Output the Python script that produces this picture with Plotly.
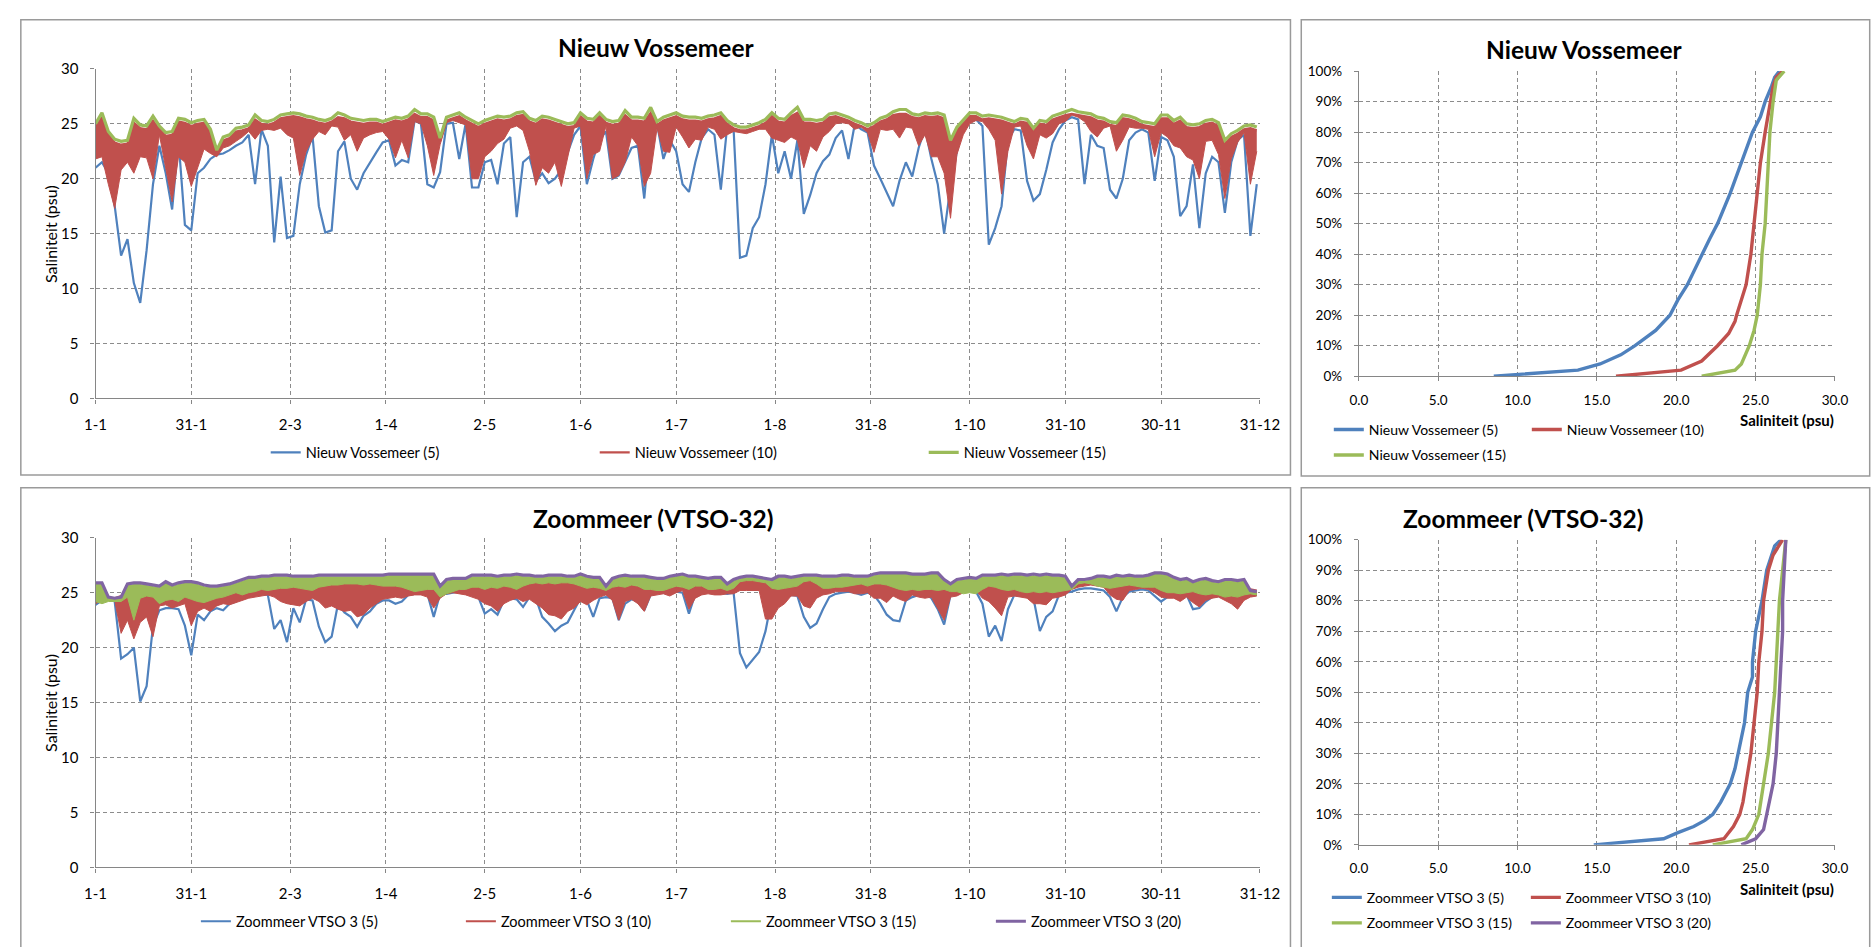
import plotly.graph_objects as go

# ---------------------------------------------------------------------------
# Page geometry (pixels) and helpers to place things in paper coordinates
# ---------------------------------------------------------------------------
W, H = 1872, 947


def px(x):
    return x / W


def py(y):
    return 1 - y / H


FONT = "Lato"
BLUE = "#4F81BD"
RED = "#C0504D"
GREEN = "#9BBB59"
PURPLE = "#8064A2"
AXIS = "#868686"
GRID = "#8C8C8C"
FRAME = "#9A9A9A"

# ---------------------------------------------------------------------------
# Time axis: day of year (sampled every 2 days) and date tick labels
# ---------------------------------------------------------------------------
DAYS = list(range(0, 365, 2))
TICK_DAYS = [0, 30, 61, 91, 122, 152, 182, 213, 243, 274, 304, 334, 365]
TICK_LABELS = ["1-1", "31-1", "2-3", "1-4", "2-5", "1-6", "1-7", "1-8",
               "31-8", "1-10", "31-10", "30-11", "31-12"]

# ---------------------------------------------------------------------------
# Nieuw Vossemeer salinity (psu) at 5, 10 and 15 m
# The 10 m sensor swings strongly within a day: kept as low / high envelope.
# ---------------------------------------------------------------------------
NV5 = [
    21.0, 21.5, 20.5, 17.5, 13.0, 14.5, 10.5, 8.7, 13.5, 19.5,
    23.0, 20.5, 17.2, 23.5, 15.8, 15.3, 20.5, 21.0, 21.8, 22.2,
    22.3, 22.6, 23.0, 23.3, 24.0, 19.5, 24.5, 23.0, 14.2, 20.2,
    14.6, 14.8, 19.5, 22.2, 23.9, 17.5, 15.1, 15.3, 22.5, 23.4,
    20.0, 19.0, 20.5, 21.5, 22.4, 23.3, 23.5, 21.2, 21.7, 21.5,
    25.3, 25.0, 19.5, 19.2, 20.6, 25.0, 25.1, 21.8, 25.0, 19.2,
    19.2, 21.5, 21.7, 19.5, 23.2, 23.8, 16.5, 21.5, 22.0, 19.8,
    20.5, 19.6, 20.0, 20.8, 22.5, 24.0, 24.8, 19.5, 21.8, 23.6,
    24.3, 20.0, 20.3, 21.5, 22.8, 23.0, 18.2, 24.6, 25.0, 21.8,
    23.5, 22.5, 19.5, 18.8, 21.5, 23.7, 24.5, 24.0, 19.0, 24.8,
    24.5, 12.8, 13.0, 15.5, 16.5, 19.5, 24.0, 20.5, 22.5, 20.0,
    23.5, 16.8, 18.5, 20.5, 21.6, 22.2, 23.7, 24.4, 21.8, 25.0,
    24.5, 24.2, 21.2, 20.0, 18.8, 17.5, 19.8, 21.5, 20.2, 22.8,
    24.6, 21.8, 19.5, 15.0, 19.3, 22.5, 24.8, 25.2, 25.4, 24.8,
    14.0, 15.5, 17.5, 23.5, 24.5, 24.4, 19.8, 18.0, 18.6, 20.8,
    23.3, 24.5, 25.3, 25.6, 25.4, 19.5, 24.0, 23.0, 22.8, 19.0,
    18.2, 20.0, 23.5, 24.2, 24.5, 24.2, 19.8, 23.8, 23.5, 22.0,
    16.6, 17.5, 21.3, 15.5, 20.5, 22.0, 21.5, 16.9, 21.5, 23.5,
    24.0, 14.8, 19.5,
]
NV10_LOW = [
    21.8, 22.0, 19.5, 17.3, 20.8, 21.5, 20.5, 22.0, 21.9, 20.0,
    24.0, 21.0, 17.9, 22.0, 21.5, 19.3, 21.0, 22.7, 22.3, 22.0,
    22.8, 23.0, 23.4, 23.8, 24.3, 23.6, 24.4, 24.5, 24.4, 24.6,
    24.0, 23.7, 20.3, 22.5, 23.6, 24.3, 24.0, 24.8, 24.7, 23.5,
    24.0, 22.5, 23.7, 24.0, 24.2, 24.3, 23.6, 21.9, 23.5, 21.9,
    25.2, 25.0, 23.0, 20.3, 23.1, 25.1, 25.3, 25.1, 24.9, 20.0,
    20.0, 22.0, 22.5, 23.2, 23.6, 24.6, 24.8, 24.4, 22.5, 19.4,
    21.0, 20.5, 21.5, 19.3, 22.0, 24.6, 24.8, 20.0, 22.2, 22.5,
    24.8, 20.0, 20.3, 21.5, 23.8, 23.0, 19.3, 20.5, 24.6, 22.5,
    22.4, 24.7, 23.8, 22.8, 23.6, 23.5, 24.7, 24.5, 23.6, 24.0,
    24.3, 24.2, 24.1, 24.3, 24.5, 24.5, 23.7, 23.5, 23.3, 23.8,
    23.5, 21.0, 23.0, 22.5, 23.8, 24.3, 25.0, 25.1, 25.0, 24.5,
    24.7, 24.2, 22.4, 24.5, 24.4, 24.5, 23.7, 24.7, 24.6, 23.0,
    24.0, 22.0, 22.0, 20.5, 16.4, 22.2, 24.0, 25.0, 25.3, 25.2,
    24.5, 23.5, 18.6, 22.5, 24.7, 24.8, 23.0, 21.8, 24.0, 23.7,
    24.1, 25.0, 25.2, 25.8, 25.6, 25.2, 24.3, 23.8, 24.6, 24.8,
    22.5, 23.5, 24.7, 24.6, 24.6, 24.5, 22.0, 24.2, 23.8, 23.0,
    22.8, 22.0, 21.7, 20.0, 23.4, 23.5, 22.2, 18.2, 21.8, 23.3,
    24.2, 19.5, 22.5,
]
NV10_HIGH = [
    24.7, 25.6, 24.0, 23.3, 23.1, 23.2, 25.1, 24.6, 24.5, 25.3,
    24.5, 23.9, 24.0, 25.2, 25.1, 24.8, 25.0, 25.1, 24.2, 22.3,
    23.5, 23.7, 24.3, 24.4, 24.6, 25.4, 25.0, 24.9, 25.1, 25.5,
    25.6, 25.7, 25.6, 25.4, 25.3, 25.1, 25.0, 25.2, 25.6, 25.5,
    25.2, 25.1, 25.0, 25.1, 25.1, 24.9, 25.1, 25.3, 25.2, 25.4,
    25.9, 25.6, 25.6, 25.3, 23.4, 25.3, 25.5, 25.7, 25.3, 25.0,
    24.7, 25.0, 25.2, 25.4, 25.3, 25.4, 25.7, 25.8, 25.2, 25.0,
    25.4, 25.3, 25.1, 24.9, 24.7, 24.8, 25.7, 25.2, 25.1, 25.7,
    25.1, 24.9, 25.0, 25.8, 25.3, 25.3, 25.2, 26.0, 24.9, 25.3,
    25.5, 25.7, 25.4, 25.3, 25.3, 25.2, 25.4, 25.5, 25.7, 25.0,
    24.6, 24.4, 24.4, 24.6, 24.8, 25.1, 25.7, 25.2, 25.1, 25.7,
    26.0, 25.1, 25.1, 25.0, 25.1, 25.6, 25.7, 25.5, 25.3, 25.0,
    24.8, 24.5, 24.8, 25.2, 25.4, 25.8, 25.9, 25.9, 25.6, 25.5,
    25.7, 25.6, 25.7, 25.5, 23.2, 24.4, 25.1, 25.7, 25.7, 25.4,
    25.5, 25.4, 25.3, 25.1, 24.9, 25.2, 25.1, 24.3, 25.0, 24.9,
    25.4, 25.6, 25.8, 25.9, 25.8, 25.7, 25.6, 25.3, 25.2, 24.9,
    24.8, 25.5, 25.4, 25.2, 24.9, 24.8, 24.7, 25.5, 25.5, 25.0,
    25.3, 24.7, 24.6, 24.7, 25.0, 25.1, 24.8, 23.2, 23.8, 24.1,
    24.5, 24.6, 24.4,
]
NV15 = [
    25.0, 26.0, 24.3, 23.6, 23.4, 23.5, 25.5, 24.9, 24.8, 25.7,
    24.8, 24.2, 24.3, 25.5, 25.4, 25.1, 25.3, 25.4, 24.5, 22.6,
    23.8, 24.0, 24.6, 24.7, 24.9, 25.8, 25.3, 25.2, 25.4, 25.8,
    25.9, 26.0, 25.9, 25.7, 25.6, 25.4, 25.3, 25.5, 26.0, 25.8,
    25.5, 25.4, 25.3, 25.4, 25.4, 25.2, 25.4, 25.6, 25.5, 25.7,
    26.3, 25.9, 25.9, 25.6, 23.7, 25.6, 25.8, 26.0, 25.6, 25.3,
    25.0, 25.3, 25.5, 25.7, 25.6, 25.7, 26.0, 26.1, 25.5, 25.3,
    25.7, 25.6, 25.4, 25.2, 25.0, 25.1, 26.0, 25.5, 25.4, 26.0,
    25.4, 25.2, 25.3, 26.2, 25.6, 25.6, 25.5, 26.5, 25.2, 25.6,
    25.8, 26.0, 25.7, 25.6, 25.6, 25.5, 25.7, 25.8, 26.0, 25.3,
    24.9, 24.7, 24.7, 24.9, 25.1, 25.4, 26.0, 25.5, 25.4, 26.0,
    26.5, 25.4, 25.4, 25.3, 25.4, 25.9, 26.0, 25.8, 25.6, 25.3,
    25.1, 24.8, 25.1, 25.5, 25.7, 26.1, 26.3, 26.3, 25.9, 25.8,
    26.0, 25.9, 26.0, 25.8, 23.5, 24.7, 25.4, 26.0, 26.0, 25.7,
    25.8, 25.7, 25.6, 25.4, 25.2, 25.5, 25.4, 24.6, 25.3, 25.2,
    25.7, 25.9, 26.1, 26.3, 26.1, 26.0, 25.9, 25.6, 25.5, 25.2,
    25.1, 25.8, 25.7, 25.5, 25.2, 25.1, 25.0, 25.8, 25.8, 25.3,
    25.6, 25.0, 24.9, 25.0, 25.3, 25.4, 25.1, 23.5, 24.1, 24.4,
    24.8, 24.9, 24.7,
]

# ---------------------------------------------------------------------------
# Zoommeer VTSO 3 salinity (psu) at 5, 10, 15 and 20 m
# ---------------------------------------------------------------------------
ZV5 = [
    23.9, 24.3, 24.4, 24.2, 19.0, 19.4, 20.0, 15.1, 16.5, 22.0,
    23.4, 23.6, 23.6, 23.5, 22.0, 19.3, 23.0, 22.5, 23.3, 23.6,
    23.4, 24.0, 24.2, 24.6, 24.8, 24.8, 24.9, 24.8, 21.7, 22.5,
    20.5, 23.6, 22.3, 24.4, 24.3, 21.9, 20.5, 21.0, 24.0, 23.2,
    22.8, 21.9, 22.9, 23.3, 24.0, 24.3, 24.3, 24.0, 24.2, 24.8,
    24.9, 25.0, 24.9, 22.8, 24.9, 24.9, 25.0, 25.1, 25.2, 24.8,
    24.6, 23.1, 23.5, 23.0, 24.3, 24.5, 24.4, 23.7, 24.6, 24.5,
    22.8, 22.2, 21.5, 22.0, 22.3, 23.4, 24.5, 24.3, 22.8, 24.5,
    24.6, 24.5, 22.5, 24.0, 24.4, 24.2, 23.4, 24.8, 25.0, 25.0,
    24.9, 25.1, 25.0, 23.1, 24.9, 25.0, 25.2, 25.1, 25.0, 24.9,
    25.0, 19.5, 18.2, 18.9, 19.6, 21.5, 24.5, 24.7, 24.6, 24.8,
    24.7, 22.8, 21.8, 22.2, 23.5, 24.6, 24.9, 25.0, 25.1, 25.0,
    24.8, 25.0, 24.8, 24.0, 23.0, 22.5, 22.4, 24.3, 24.6, 24.8,
    24.9, 24.5, 23.5, 22.1, 24.8, 24.9, 25.1, 25.2, 25.1, 24.0,
    21.0, 22.0, 20.6, 23.5, 24.8, 24.7, 24.8, 24.5, 21.5, 22.8,
    23.3, 24.8, 25.0, 25.1, 25.3, 25.4, 25.4, 25.3, 25.2, 24.6,
    23.3, 24.6, 25.1, 25.2, 25.3, 25.2, 24.7, 24.2, 24.6, 25.0,
    24.8, 24.8, 23.5, 23.6, 24.2, 24.6, 24.7, 24.5, 24.2, 24.0,
    24.8, 24.7, 24.8,
]
ZV10_LOW = [
    24.0, 24.3, 24.4, 24.3, 21.3, 22.5, 20.8, 22.3, 22.8, 21.0,
    23.8, 23.9, 23.6, 23.8, 24.0, 22.0, 23.3, 23.6, 23.3, 23.8,
    24.0, 23.9, 24.1, 24.3, 24.5, 24.6, 24.7, 24.8, 24.6, 24.2,
    24.0, 23.9, 23.8, 24.2, 24.5, 24.2, 23.6, 23.8, 23.5, 23.3,
    23.4, 22.8, 23.0, 23.6, 24.0, 24.4, 24.5, 24.6, 24.5, 24.7,
    24.8, 24.8, 24.6, 23.6, 24.5, 24.9, 25.0, 24.9, 24.8, 24.6,
    24.4, 24.0, 23.8, 23.3, 24.0, 24.3, 24.5, 24.2, 24.4, 24.0,
    23.6, 23.0, 22.9, 22.6, 23.3, 23.6, 24.2, 23.9, 24.3, 24.6,
    24.8, 24.3, 22.5, 24.2, 24.4, 24.0, 23.3, 24.7, 24.8, 24.9,
    24.7, 25.0, 25.2, 23.5, 24.5, 24.8, 24.9, 24.8, 24.8, 24.9,
    24.9, 25.2, 25.2, 25.2, 25.2, 22.6, 22.6, 23.6, 24.0, 24.7,
    24.7, 23.8, 23.6, 24.5, 24.8, 24.9, 25.1, 25.1, 25.1, 24.9,
    24.9, 25.0, 24.5, 24.5, 24.1, 24.7, 24.4, 24.2, 24.8, 24.6,
    24.5, 24.6, 23.5, 22.5, 24.6, 24.7, 25.0, 25.2, 25.2, 24.5,
    24.2, 23.6, 22.9, 24.6, 24.7, 24.6, 24.5, 24.0, 24.0, 23.9,
    24.5, 24.6, 24.8, 25.3, 25.5, 25.6, 25.7, 25.6, 25.5, 24.8,
    24.4, 24.3, 25.2, 25.3, 25.4, 25.3, 25.0, 24.6, 24.5, 24.5,
    24.2, 24.6, 24.1, 23.7, 24.3, 24.5, 24.6, 24.3, 24.0, 23.5,
    24.3, 24.6, 24.7,
]
ZV10_HIGH = [
    24.6, 24.6, 24.5, 24.5, 24.7, 24.8, 24.9, 24.8, 24.7, 24.6,
    24.5, 24.5, 24.6, 24.4, 24.6, 24.9, 25.0, 25.1, 25.0, 25.1,
    25.2, 25.1, 25.2, 25.3, 25.3, 25.4, 25.5, 25.4, 25.6, 25.8,
    25.9, 25.9, 25.8, 25.9, 25.9, 25.9, 26.0, 25.9, 25.9, 26.0,
    25.9, 26.0, 25.9, 25.9, 26.0, 25.9, 25.8, 25.7, 25.6, 25.6,
    25.5, 25.6, 25.7, 25.5, 24.8, 25.3, 25.4, 25.5, 25.5, 25.8,
    25.9, 25.9, 26.0, 26.0, 25.9, 26.0, 26.1, 26.0, 25.9, 26.0,
    26.0, 26.0, 25.9, 26.0, 25.9, 25.8, 25.7, 25.6, 25.8, 25.7,
    25.3, 25.6, 25.7, 25.6, 25.7, 25.5, 25.4, 25.3, 25.3, 25.2,
    25.4, 25.5, 25.4, 25.9, 25.9, 25.8, 25.4, 25.3, 25.5, 25.3,
    25.4, 26.1, 26.1, 26.1, 26.1, 25.9, 25.9, 25.8, 25.9, 25.9,
    25.9, 26.1, 26.1, 25.8, 25.6, 25.5, 25.6, 25.7, 25.7, 25.8,
    25.8, 25.6, 25.7, 25.9, 25.8, 25.7, 25.6, 25.5, 25.5, 25.5,
    25.5, 25.5, 25.3, 25.3, 25.2, 25.3, 25.2, 25.3, 25.3, 25.6,
    25.7, 25.7, 25.5, 25.5, 25.5, 25.4, 25.5, 25.5, 25.4, 25.5,
    25.6, 25.6, 25.6, 25.5, 25.8, 25.8, 25.8, 25.7, 25.6, 25.7,
    25.7, 25.7, 25.6, 25.6, 25.6, 25.5, 25.5, 25.4, 25.4, 25.4,
    25.4, 25.3, 25.3, 25.3, 25.2, 25.3, 25.2, 25.1, 25.2, 25.2,
    25.3, 25.3, 25.2,
]
ZV15_LOW = [
    24.2, 24.0, 24.2, 24.2, 24.2, 24.6, 22.5, 24.5, 24.7, 24.6,
    24.0, 24.3, 24.4, 24.2, 24.6, 24.4, 24.2, 24.1, 24.3, 24.5,
    24.6, 24.8, 25.0, 24.8, 25.0, 25.1, 25.3, 25.2, 25.3, 25.4,
    25.4, 25.5, 25.4, 25.3, 25.2, 25.5, 25.6, 25.7, 25.7, 25.8,
    25.8, 25.8, 25.7, 25.8, 25.7, 25.6, 25.6, 25.6, 25.5, 25.3,
    25.1, 25.2, 25.3, 25.3, 24.6, 24.9, 25.1, 25.3, 25.3, 25.5,
    25.5, 25.3, 25.5, 25.4, 25.6, 25.5, 25.3, 25.6, 25.8, 25.9,
    25.8, 25.9, 25.8, 25.9, 25.9, 25.8, 25.6, 25.4, 25.5, 25.4,
    25.2, 25.5, 25.6, 25.5, 25.7, 25.6, 25.3, 25.3, 25.2, 25.2,
    25.4, 25.6, 25.5, 25.3, 25.6, 25.6, 25.3, 25.3, 25.4, 25.2,
    25.4, 26.0, 26.1, 26.1, 26.0, 25.9, 25.4, 25.3, 25.4, 25.5,
    25.6, 26.0, 26.1, 25.8, 25.4, 25.4, 25.5, 25.5, 25.6, 25.7,
    25.8, 25.6, 25.8, 25.8, 25.7, 25.5, 25.3, 25.2, 25.3, 25.2,
    25.3, 25.3, 25.2, 25.3, 25.1, 25.1, 24.9, 25.0, 24.9, 25.3,
    25.6, 25.5, 25.3, 25.2, 25.3, 25.1, 25.0, 25.1, 25.0, 25.1,
    25.0, 25.1, 25.2, 25.3, 25.8, 25.9, 25.8, 25.6, 25.5, 25.4,
    25.5, 25.6, 25.7, 25.6, 25.5, 25.5, 25.5, 25.2, 25.0, 25.0,
    24.9, 25.0, 25.1, 24.9, 24.8, 24.9, 24.8, 24.6, 24.7, 24.6,
    24.8, 24.9, 24.8,
]
ZV15_HIGH = [
    25.7, 25.7, 24.4, 24.3, 24.4, 25.6, 25.7, 25.7, 25.6, 25.5,
    25.4, 25.8, 25.5, 25.7, 25.8, 25.8, 25.7, 25.5, 25.4, 25.4,
    25.5, 25.6, 25.8, 26.0, 26.2, 26.2, 26.3, 26.3, 26.4, 26.4,
    26.4, 26.3, 26.3, 26.3, 26.3, 26.4, 26.4, 26.4, 26.4, 26.4,
    26.4, 26.4, 26.4, 26.4, 26.4, 26.4, 26.5, 26.5, 26.5, 26.5,
    26.5, 26.5, 26.5, 26.5, 25.4, 26.0, 26.1, 26.1, 26.1, 26.4,
    26.4, 26.4, 26.4, 26.3, 26.4, 26.4, 26.5, 26.4, 26.4, 26.3,
    26.3, 26.4, 26.4, 26.4, 26.3, 26.3, 26.5, 26.3, 26.2, 26.2,
    25.4, 26.1, 26.3, 26.4, 26.3, 26.3, 26.3, 26.2, 26.1, 26.1,
    26.3, 26.4, 26.5, 26.3, 26.3, 26.2, 26.1, 26.2, 26.2, 25.6,
    26.0, 26.2, 26.3, 26.3, 26.2, 26.1, 26.0, 26.3, 26.3, 26.2,
    26.3, 26.4, 26.4, 26.4, 26.3, 26.3, 26.3, 26.4, 26.4, 26.3,
    26.3, 26.3, 26.5, 26.6, 26.6, 26.6, 26.6, 26.6, 26.5, 26.5,
    26.5, 26.6, 26.6, 26.0, 25.6, 26.0, 26.1, 26.2, 26.1, 26.4,
    26.4, 26.4, 26.5, 26.4, 26.5, 26.5, 26.4, 26.5, 26.4, 26.5,
    26.4, 26.4, 26.3, 25.4, 26.0, 26.0, 26.1, 26.3, 26.3, 26.2,
    26.4, 26.3, 26.4, 26.3, 26.3, 26.4, 26.6, 26.6, 26.5, 26.2,
    26.0, 26.1, 25.8, 26.0, 26.1, 25.9, 25.8, 26.0, 26.0, 25.9,
    26.0, 25.0, 24.9,
]
ZV20 = [
    25.9, 25.9, 24.6, 24.5, 24.6, 25.8, 25.9, 25.9, 25.8, 25.7,
    25.6, 26.0, 25.7, 25.9, 26.0, 26.0, 25.9, 25.7, 25.6, 25.6,
    25.7, 25.8, 26.0, 26.2, 26.4, 26.4, 26.5, 26.5, 26.6, 26.6,
    26.6, 26.5, 26.5, 26.5, 26.5, 26.6, 26.6, 26.6, 26.6, 26.6,
    26.6, 26.6, 26.6, 26.6, 26.6, 26.6, 26.7, 26.7, 26.7, 26.7,
    26.7, 26.7, 26.7, 26.7, 25.6, 26.2, 26.3, 26.3, 26.3, 26.6,
    26.6, 26.6, 26.6, 26.5, 26.6, 26.6, 26.7, 26.6, 26.6, 26.5,
    26.5, 26.6, 26.6, 26.6, 26.5, 26.5, 26.7, 26.5, 26.4, 26.4,
    25.6, 26.3, 26.5, 26.6, 26.5, 26.5, 26.5, 26.4, 26.3, 26.3,
    26.5, 26.6, 26.7, 26.5, 26.5, 26.4, 26.3, 26.4, 26.4, 25.8,
    26.2, 26.4, 26.5, 26.5, 26.4, 26.3, 26.2, 26.5, 26.5, 26.4,
    26.5, 26.6, 26.6, 26.6, 26.5, 26.5, 26.5, 26.6, 26.6, 26.5,
    26.5, 26.5, 26.7, 26.8, 26.8, 26.8, 26.8, 26.8, 26.7, 26.7,
    26.7, 26.8, 26.8, 26.2, 25.8, 26.2, 26.3, 26.4, 26.3, 26.6,
    26.6, 26.6, 26.7, 26.6, 26.7, 26.7, 26.6, 26.7, 26.6, 26.7,
    26.6, 26.6, 26.5, 25.6, 26.2, 26.2, 26.3, 26.5, 26.5, 26.4,
    26.6, 26.5, 26.6, 26.5, 26.5, 26.6, 26.8, 26.8, 26.7, 26.4,
    26.2, 26.3, 26.0, 26.2, 26.3, 26.1, 26.0, 26.2, 26.2, 26.1,
    26.2, 25.2, 25.1,
]

# ---------------------------------------------------------------------------
# Cumulative distributions: share of time (%) at or below a salinity (psu)
# ---------------------------------------------------------------------------
NV5_CDF_PCT = [0, 2, 4, 7, 10, 15, 20, 22, 25, 30, 40, 45, 48, 50, 60, 70, 80, 85, 90, 95, 98, 100]
NV5_CDF_SAL = [8.5, 13.8, 15.2, 16.5, 17.4, 18.7, 19.6, 19.8, 20.1, 20.7, 21.6, 22.1, 22.4, 22.6,
               23.4, 24.1, 24.8, 25.3, 25.6, 26.0, 26.2, 26.5]
NV10_CDF_PCT = [0, 2, 5, 10, 14, 18, 20, 25, 30, 40, 50, 60, 70, 80, 90, 95, 98, 100]
NV10_CDF_SAL = [16.2, 20.3, 21.6, 22.6, 23.3, 23.7, 23.8, 24.1, 24.4, 24.7, 24.9, 25.1, 25.3,
                25.6, 25.9, 26.1, 26.3, 26.7]
NV15_CDF_PCT = [0, 2, 4, 8, 10, 15, 20, 30, 40, 50, 60, 70, 80, 90, 97, 100]
NV15_CDF_SAL = [21.6, 23.7, 24.1, 24.4, 24.6, 24.9, 25.1, 25.3, 25.4, 25.6, 25.7, 25.8, 25.9,
                26.1, 26.3, 26.8]

ZV5_CDF_PCT = [0, 2, 4, 6, 8, 10, 14, 20, 25, 30, 40, 50, 55, 60, 70, 75, 80, 90, 95, 98, 100]
ZV5_CDF_SAL = [14.8, 19.2, 20.1, 21.1, 21.8, 22.3, 22.8, 23.4, 23.7, 23.9, 24.3, 24.5, 24.8,
               24.8, 25.0, 25.2, 25.4, 25.7, 26.0, 26.2, 26.6]
ZV10_CDF_PCT = [0, 2, 6, 10, 14, 20, 30, 40, 50, 60, 70, 80, 90, 95, 100]
ZV10_CDF_SAL = [20.8, 23.0, 23.6, 24.0, 24.2, 24.4, 24.7, 24.9, 25.1, 25.2, 25.4, 25.5, 25.8,
                26.1, 26.7]
ZV15_CDF_PCT = [0, 2, 5, 10, 20, 30, 40, 50, 60, 70, 80, 90, 100]
ZV15_CDF_SAL = [22.3, 24.4, 24.8, 25.2, 25.5, 25.8, 26.0, 26.2, 26.3, 26.4, 26.5, 26.7, 26.9]
ZV20_CDF_PCT = [0, 2, 5, 10, 20, 30, 40, 50, 60, 70, 80, 90, 100]
ZV20_CDF_SAL = [24.1, 25.0, 25.5, 25.7, 26.1, 26.3, 26.4, 26.5, 26.6, 26.7, 26.7, 26.8, 26.9]

# ---------------------------------------------------------------------------
# Traces
# ---------------------------------------------------------------------------
fig = go.Figure()


def line(x, y, color, width, name, legend, xa, ya, showlegend=True):
    fig.add_trace(go.Scatter(
        x=x, y=y, mode="lines", name=name, legend=legend, showlegend=showlegend,
        line=dict(color=color, width=width), xaxis=xa, yaxis=ya,
        hoverinfo="skip"))


def band(x, y_low, color, xa, ya):
    # filled down from the previous trace (the band's upper edge)
    fig.add_trace(go.Scatter(
        x=x, y=y_low, mode="lines", showlegend=False, fill="tonexty",
        fillcolor=color, line=dict(color=color, width=1),
        xaxis=xa, yaxis=ya, hoverinfo="skip"))


# Nieuw Vossemeer time series
line(DAYS, NV5, BLUE, 2.2, "Nieuw Vossemeer (5)", "legend", "x", "y")
line(DAYS, NV10_HIGH, RED, 2.2, "Nieuw Vossemeer (10)", "legend", "x", "y")
band(DAYS, NV10_LOW, RED, "x", "y")
line(DAYS, NV15, GREEN, 3.2, "Nieuw Vossemeer (15)", "legend", "x", "y")

# Zoommeer time series
line(DAYS, ZV5, BLUE, 2.2, "Zoommeer VTSO 3 (5)", "legend2", "x2", "y2")
line(DAYS, ZV10_HIGH, RED, 2.2, "Zoommeer VTSO 3 (10)", "legend2", "x2", "y2")
band(DAYS, ZV10_LOW, RED, "x2", "y2")
line(DAYS, ZV15_HIGH, GREEN, 2.2, "Zoommeer VTSO 3 (15)", "legend2", "x2", "y2")
band(DAYS, ZV15_LOW, GREEN, "x2", "y2")
line(DAYS, ZV20, PURPLE, 3.2, "Zoommeer VTSO 3 (20)", "legend2", "x2", "y2")

# Nieuw Vossemeer cumulative distributions
line(NV5_CDF_SAL, NV5_CDF_PCT, BLUE, 3.4, "Nieuw Vossemeer (5)", "legend3", "x3", "y3")
line(NV10_CDF_SAL, NV10_CDF_PCT, RED, 3.4, "Nieuw Vossemeer (10)", "legend3", "x3", "y3")
line(NV15_CDF_SAL, NV15_CDF_PCT, GREEN, 3.4, "Nieuw Vossemeer (15)", "legend5", "x3", "y3")

# Zoommeer cumulative distributions
line(ZV5_CDF_SAL, ZV5_CDF_PCT, BLUE, 3.4, "Zoommeer VTSO 3 (5)", "legend4", "x4", "y4")
line(ZV10_CDF_SAL, ZV10_CDF_PCT, RED, 3.4, "Zoommeer VTSO 3 (10)", "legend4", "x4", "y4")
line(ZV15_CDF_SAL, ZV15_CDF_PCT, GREEN, 3.4, "Zoommeer VTSO 3 (15)", "legend6", "x4", "y4")
line(ZV20_CDF_SAL, ZV20_CDF_PCT, PURPLE, 3.4, "Zoommeer VTSO 3 (20)", "legend6", "x4", "y4")

# ---------------------------------------------------------------------------
# Axes
# ---------------------------------------------------------------------------
TICKFONT = dict(family=FONT, size=15, color="#000000")
SMALL_TICKFONT = dict(family=FONT, size=13.5, color="#000000")
common = dict(showgrid=True, gridcolor=GRID, gridwidth=1, griddash="4px,3px",
              showline=True, linecolor=AXIS, linewidth=1.3, zeroline=False,
              ticks="outside", ticklen=4, tickcolor=AXIS, tickwidth=1,
              tickfont=TICKFONT, fixedrange=True, layer="above traces")

time_x = dict(common, range=[0, 365], tickmode="array", tickvals=TICK_DAYS,
              ticktext=TICK_LABELS, ticklabelstandoff=8)
sal_y = dict(common, range=[0, 30], tickmode="linear", tick0=0, dtick=5,
             ticklabelstandoff=9)
cdf_x = dict(common, range=[0, 30], tickmode="linear", tick0=0, dtick=5,
             tickformat=".1f", ticklabelstandoff=7, tickfont=SMALL_TICKFONT)
cdf_y = dict(common, range=[0, 100], tickmode="linear", tick0=0, dtick=10,
             ticksuffix="%", ticklabelstandoff=9, tickfont=SMALL_TICKFONT)

LEFT_X = [px(86), px(1270)]
RIGHT_X = [px(1370.6), px(1854.7)]


def legend_box(x, y, entrywidth, size):
    return dict(orientation="h", xanchor="left", yanchor="middle",
                x=px(x), y=py(y), entrywidth=entrywidth, entrywidthmode="pixels",
                bgcolor="rgba(0,0,0,0)", borderwidth=0, itemwidth=30,
                traceorder="normal",
                font=dict(family=FONT, size=size, color="#000000"))


fig.update_layout(
    width=W, height=H, autosize=False,
    margin=dict(l=0, r=0, t=0, b=0, pad=0),
    paper_bgcolor="white", plot_bgcolor="rgba(0,0,0,0)",
    font=dict(family=FONT, color="#000000"),
    xaxis=dict(time_x, domain=LEFT_X, anchor="y"),
    yaxis=dict(sal_y, domain=[py(396), py(60)], anchor="x"),
    xaxis2=dict(time_x, domain=LEFT_X, anchor="y2"),
    yaxis2=dict(sal_y, domain=[py(874), py(538)], anchor="x2"),
    xaxis3=dict(cdf_x, domain=RIGHT_X, anchor="y3"),
    yaxis3=dict(cdf_y, domain=[py(373.3), py(62.3)], anchor="x3"),
    xaxis4=dict(cdf_x, domain=RIGHT_X, anchor="y4"),
    yaxis4=dict(cdf_y, domain=[py(851), py(540)], anchor="x4"),
    legend=legend_box(259, 451, 284, 14.5),
    legend2=legend_box(188, 929, 220, 14.5),
    legend3=legend_box(1340, 428, 153, 14),
    legend5=legend_box(1340, 454, 153, 14),
    legend4=legend_box(1338, 905, 154, 14),
    legend6=legend_box(1338, 931, 154, 14),
    showlegend=True,
)

# ---------------------------------------------------------------------------
# Panel frames
# ---------------------------------------------------------------------------
frames = [(10, 10, 1301, 474), (1312, 10, 1890, 475),
          (10, 487, 1301, 960), (1312, 487, 1890, 960)]
for x0, y0, x1, y1 in frames:
    fig.add_shape(type="rect", xref="paper", yref="paper",
                  x0=px(x0), x1=px(x1), y0=py(y1), y1=py(y0),
                  line=dict(color=FRAME, width=1.5), fillcolor="rgba(0,0,0,0)",
                  layer="below")

# ---------------------------------------------------------------------------
# Titles and axis captions
# ---------------------------------------------------------------------------
TITLE_FONT = dict(family=FONT, size=24.5, color="#000000", weight="bold")


def note(text, x, y, font, angle=0):
    fig.add_annotation(text=text, x=px(x), y=py(y), xref="paper", yref="paper",
                       xanchor="center", yanchor="middle", showarrow=False,
                       textangle=angle, font=font)


note("Nieuw Vossemeer", 656, 38, TITLE_FONT)
note("Zoommeer (VTSO-32)", 653, 518, TITLE_FONT)
note("Nieuw Vossemeer", 1599, 40, TITLE_FONT)
note("Zoommeer (VTSO-32)", 1537, 518, TITLE_FONT)

YT_FONT = dict(family=FONT, size=16, color="#000000")
note("Saliniteit (psu)", 40, 228, YT_FONT, angle=-90)
note("Saliniteit (psu)", 40, 706, YT_FONT, angle=-90)

XT_FONT = dict(family=FONT, size=15, color="#000000", weight="bold")
note("Saliniteit (psu)", 1806, 418, XT_FONT)
note("Saliniteit (psu)", 1806, 896, XT_FONT)

fig.write_html("out.html", config={"displayModeBar": False})
